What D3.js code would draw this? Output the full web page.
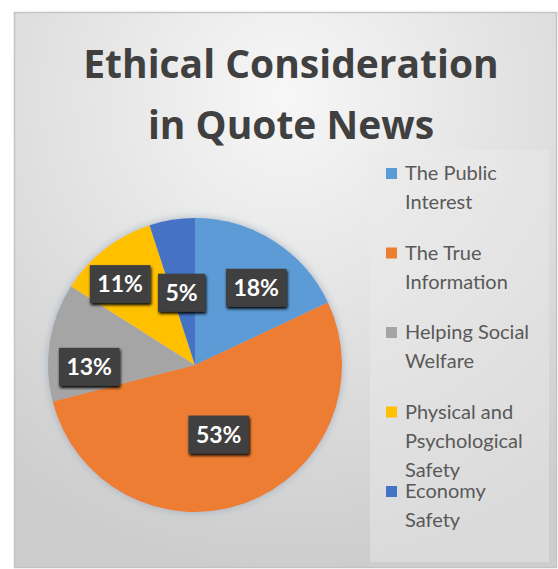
<!DOCTYPE html>
<html>
<head>
<meta charset="utf-8">
<script src="https://cdn.jsdelivr.net/npm/d3@7"></script>
<style>
  body { margin: 0; background: #fff; }
  svg { display: block; }
</style>
</head>
<body>
<svg id="chart"></svg>
<script>
const categories = ["The Public Interest", "The True Information", "Helping Social Welfare",
    "Physical and Psychological Safety", "Economy Safety"];
const legendLines = [["The Public", "Interest"], ["The True", "Information"],
    ["Helping Social", "Welfare"], ["Physical and", "Psychological", "Safety"], ["Economy", "Safety"]];
const values = [18, 53, 13, 11, 5];
const colors = ["#5b9bd5", "#ed7d31", "#a5a5a5", "#ffc000", "#4472c4"];
const titleLines = ["Ethical Consideration", "in Quote News"];

// label placement (fraction of radius, angle nudge in degrees), like excel best fit
const labelFit = [[0.67, 6], [0.5, 1], [0.72, -10], [0.75, -5], [0.5, -1.5]];

const width = 558;
const height = 569;
const cx = 195, cy = 365, radius = 147;

const svg = d3.select('#chart')
    .attr('width', width)
    .attr('height', height);

const defs = svg.append('defs');
const bg = defs.append('radialGradient')
    .attr('id', 'bg')
    .attr('cx', '50%').attr('cy', '15%').attr('r', '85%');
bg.append('stop').attr('offset', '0%').attr('stop-color', '#f7f7f7');
bg.append('stop').attr('offset', '100%').attr('stop-color', '#cdcdcd');

const shadow = defs.append('filter').attr('id', 'shadow')
    .attr('x', '-20%').attr('y', '-20%').attr('width', '140%').attr('height', '140%');
shadow.append('feGaussianBlur').attr('in', 'SourceAlpha').attr('stdDeviation', 4).attr('result', 'b');
shadow.append('feFlood').attr('flood-color', '#8fa3b8').attr('flood-opacity', 0.7);
shadow.append('feComposite').attr('in2', 'b').attr('operator', 'in').attr('result', 's');
const m = shadow.append('feMerge');
m.append('feMergeNode').attr('in', 's');
m.append('feMergeNode').attr('in', 'SourceGraphic');

const boxShadow = defs.append('filter').attr('id', 'boxShadow')
    .attr('x', '-30%').attr('y', '-30%').attr('width', '160%').attr('height', '160%');
boxShadow.append('feGaussianBlur').attr('in', 'SourceAlpha').attr('stdDeviation', 1.5).attr('result', 'b');
boxShadow.append('feOffset').attr('dx', 1).attr('dy', 1.5).attr('result', 'o');
const m2 = boxShadow.append('feMerge');
m2.append('feMergeNode').attr('in', 'o');
m2.append('feMergeNode').attr('in', 'SourceGraphic');

// chart area
svg.append('rect')
    .attr('x', 14.5).attr('y', 12.5)
    .attr('width', 542).attr('height', 555)
    .attr('fill', 'url(#bg)')
    .attr('stroke', '#c4c4c4')
    .attr('stroke-width', 1.5);

// title
svg.append('g')
    .selectAll('text')
    .data(titleLines)
    .enter()
    .append('text')
    .attr('x', 291)
    .attr('y', (d, i) => 78 + i * 61)
    .attr('text-anchor', 'middle')
    .attr('font-family', '"Open Sans", sans-serif')
    .attr('font-weight', 'bold')
    .attr('font-size', 39)
    .attr('fill', '#404040')
    .text(d => d);

// pie
const pie = d3.pie().sort(null).value(d => d);
const arcs = pie(values);
const arc = d3.arc().innerRadius(0).outerRadius(radius);

const pieG = svg.append('g').attr('transform', `translate(${cx},${cy})`);
pieG.append('g')
    .attr('filter', 'url(#shadow)')
    .selectAll('path')
    .data(arcs)
    .enter()
    .append('path')
    .attr('d', arc)
    .attr('fill', (d, i) => colors[i]);

// data labels
const labels = pieG.append('g')
    .selectAll('g')
    .data(arcs)
    .enter()
    .append('g')
    .attr('transform', (d, i) => {
        const a = (d.startAngle + d.endAngle) / 2 + labelFit[i][1] * Math.PI / 180;
        const r = radius * labelFit[i][0];
        return `translate(${r * Math.sin(a)},${-r * Math.cos(a)})`;
    });

labels.append('text')
    .attr('text-anchor', 'middle')
    .attr('dy', '0.36em')
    .attr('font-family', 'Lato, sans-serif')
    .attr('font-weight', 'bold')
    .attr('font-size', 23)
    .attr('fill', '#ffffff')
    .text(d => d.data + '%');

labels.each(function () {
    const g = d3.select(this);
    const w = g.select('text').node().getComputedTextLength() + 15;
    g.insert('rect', 'text')
        .attr('x', -w / 2)
        .attr('y', -19)
        .attr('width', w)
        .attr('height', 38)
        .attr('fill', '#404040')
        .attr('filter', 'url(#boxShadow)');
});

// legend
svg.append('rect')
    .attr('x', 370).attr('y', 150)
    .attr('width', 179).attr('height', 412)
    .attr('fill', '#ececec')
    .attr('opacity', 0.45);

const legend = svg.append('g')
    .selectAll('g')
    .data(categories)
    .enter()
    .append('g')
    .attr('transform', (d, i) => `translate(386,${180 + i * 79.5})`);

legend.append('rect')
    .attr('x', 0).attr('y', -12)
    .attr('width', 11).attr('height', 11)
    .attr('fill', (d, i) => colors[i]);

legend.append('text')
    .attr('font-family', 'Lato, sans-serif')
    .attr('font-size', 20)
    .attr('fill', '#595959')
    .selectAll('tspan')
    .data((d, i) => legendLines[i])
    .enter()
    .append('tspan')
    .attr('x', 19)
    .attr('y', (d, j) => j * 29)
    .text(d => d);
</script>
</body>
</html>
